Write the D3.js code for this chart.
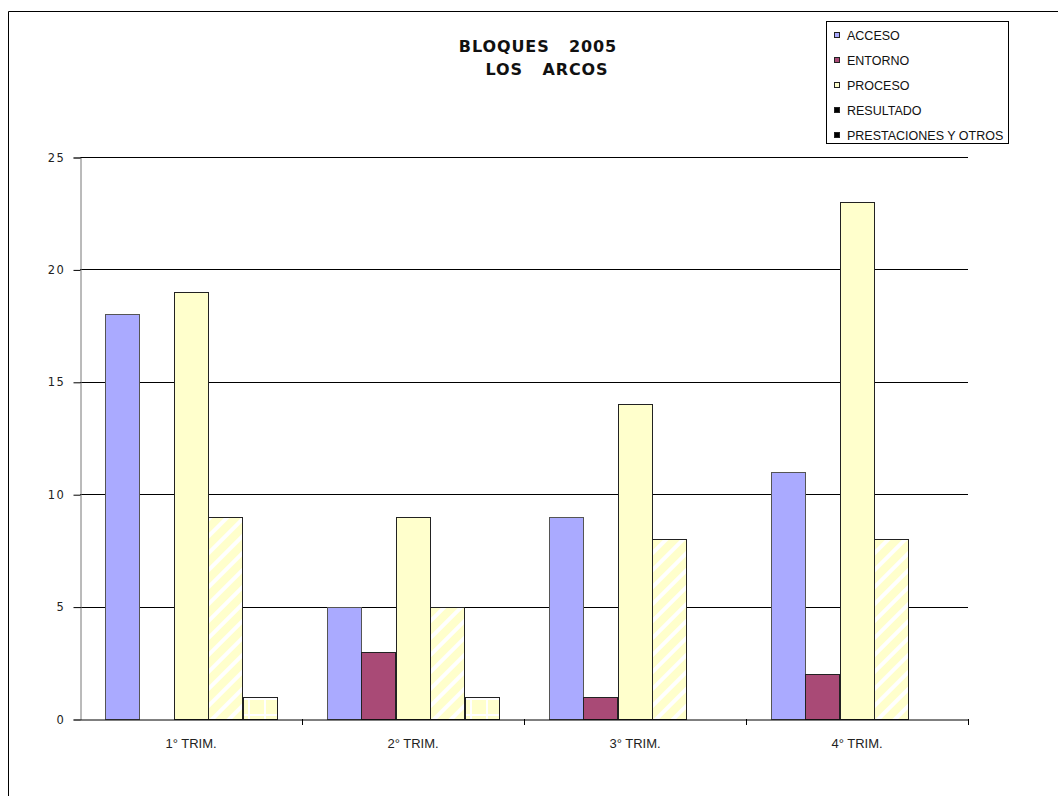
<!DOCTYPE html>
<html>
<head>
<meta charset="utf-8">
<script src="https://cdn.jsdelivr.net/npm/d3@7"></script>
<style>
  html, body { margin: 0; padding: 0; background: #fff; }
  svg { display: block; }
</style>
</head>
<body>
<svg id="chart" width="1058" height="796"></svg>
<script>
// Quarters and series of the 2005 block report
const quarters = ["1° TRIM.", "2° TRIM.", "3° TRIM.", "4° TRIM."];
const seriesNames = ["ACCESO", "ENTORNO", "PROCESO", "RESULTADO", "PRESTACIONES Y OTROS"];
const acceso = [18, 5, 9, 11];
const entorno = [0, 3, 1, 2];
const proceso = [19, 9, 14, 23];
const resultado = [9, 5, 8, 8];
const prestaciones = [1, 1, 0, 0];
const yTicks = [0, 5, 10, 15, 20, 25];

const seriesValues = [acceso, entorno, proceso, resultado, prestaciones];

const svg = d3.select("#chart");
const defs = svg.append("defs");

// Diagonal white stripes over pale yellow
const diag = defs.append("pattern").attr("id", "diag")
  .attr("patternUnits", "userSpaceOnUse").attr("width", 12).attr("height", 12)
  .attr("patternTransform", "rotate(45)");
diag.append("rect").attr("width", 12).attr("height", 12).attr("fill", "#ffffcc");
diag.append("rect").attr("x", 0).attr("width", 4).attr("height", 12).attr("fill", "#ffffff");

// White grid over pale yellow
const grid = defs.append("pattern").attr("id", "grid")
  .attr("patternUnits", "userSpaceOnUse").attr("width", 16).attr("height", 16)
  .attr("x", 1).attr("y", 3);
grid.append("rect").attr("width", 16).attr("height", 16).attr("fill", "#ffffcc");
grid.append("rect").attr("x", 7).attr("width", 2).attr("height", 16).attr("fill", "#ffffff");
grid.append("rect").attr("y", 7).attr("width", 16).attr("height", 2).attr("fill", "#ffffff");

const fills = ["#aaaaff", "#a94a76", "#ffffcc", "url(#diag)", "url(#grid)"];
const legendFills = ["#aaaaff", "#a94a76", "#ffffcc", "#000000", "#000000"];

// Outer frame (top and left edges visible)
svg.append("path").attr("d", "M8.5,796 V11.5 H1058")
  .attr("fill", "none").attr("stroke", "#000").attr("stroke-width", 1);

const plot = { left: 80, right: 968, top: 157, bottom: 719 };

const x0 = d3.scaleBand().domain(quarters).range([plot.left, plot.right]).paddingInner(0).paddingOuter(0);
const x1 = d3.scaleBand().domain(seriesNames).range([0, x0.bandwidth()]).paddingInner(0).paddingOuter(0.72);
const y = d3.scaleLinear().domain([0, 25]).range([plot.bottom, plot.top]);

// Horizontal gridlines
svg.append("g").selectAll("line").data(yTicks.filter(d => d > 0)).join("line")
  .attr("x1", plot.left).attr("x2", plot.right)
  .attr("y1", d => Math.round(y(d)) + 0.5).attr("y2", d => Math.round(y(d)) + 0.5)
  .attr("stroke", "#000").attr("stroke-width", 1);

// Bars
const groups = svg.append("g").selectAll("g").data(quarters).join("g")
  .attr("transform", d => `translate(${x0(d)},0)`);
groups.selectAll("rect")
  .data((q, qi) => seriesNames.map((s, si) => ({ s, si, v: seriesValues[si][qi] })).filter(d => d.v > 0))
  .join("rect")
  .attr("x", d => Math.round(x1(d.s)) + 0.5)
  .attr("y", d => Math.round(y(d.v)) + 0.5)
  .attr("width", Math.round(x1.bandwidth()))
  .attr("height", d => Math.round(y(0)) - Math.round(y(d.v)))
  .attr("fill", d => fills[d.si])
  .attr("stroke", d => d.si === 0 ? "#555" : "#222")
  .attr("stroke-width", 1);

// Y axis
const yAxis = svg.append("g").attr("transform", `translate(${plot.left + 0.5},0.5)`)
  .call(d3.axisLeft(y).tickValues(yTicks).tickSize(7).tickPadding(8));
yAxis.select(".domain").attr("stroke", "#777");
yAxis.selectAll(".tick line").attr("stroke", "#000");
yAxis.selectAll("text").attr("font-family", "DejaVu Sans, Verdana, sans-serif")
  .attr("font-size", 11.5).attr("letter-spacing", 1.6).attr("fill", "#222");

// X axis
const xAxis = svg.append("g").attr("transform", `translate(0,${plot.bottom + 0.5})`)
  .call(d3.axisBottom(x0).tickSize(0).tickPadding(19));
xAxis.select(".domain").attr("stroke", "#000");
xAxis.selectAll("text").attr("font-family", "Liberation Sans, Arial, sans-serif")
  .attr("font-size", 13).attr("fill", "#222").attr("dy", "0.72em");
svg.append("g").selectAll("line").data(quarters.slice(1).concat([null])).join("line")
  .attr("x1", d => d ? Math.round(x0(d)) + 0.5 : plot.right + 0.5)
  .attr("x2", d => d ? Math.round(x0(d)) + 0.5 : plot.right + 0.5)
  .attr("y1", plot.bottom).attr("y2", plot.bottom + 6)
  .attr("stroke", "#000");

// Title
const title = svg.append("g").attr("font-family", "DejaVu Sans, Verdana, sans-serif")
  .attr("font-weight", "bold").attr("font-size", 16).attr("letter-spacing", 0.9).attr("fill", "#111");
title.append("text").attr("x", 538).attr("y", 52).attr("text-anchor", "middle")
  .text("BLOQUES\u00a0\u00a0\u00a02005");
title.append("text").attr("x", 547).attr("y", 75).attr("text-anchor", "middle")
  .text("LOS\u00a0\u00a0\u00a0ARCOS");

// Legend
const legend = svg.append("g");
legend.append("rect").attr("x", 826.5).attr("y", 21.5).attr("width", 182).attr("height", 122)
  .attr("fill", "#fff").attr("stroke", "#000");
const items = legend.selectAll("g.item").data(seriesNames).join("g").attr("class", "item")
  .attr("transform", (d, i) => `translate(0,${40 + i * 25})`);
items.append("rect").attr("x", 834.5).attr("y", -7.5).attr("width", 5).attr("height", 5)
  .attr("fill", (d, i) => legendFills[i]).attr("stroke", "#222");
items.append("text").attr("x", 847).attr("y", 0)
  .attr("font-family", "Liberation Sans, Arial, sans-serif").attr("font-size", 12.5).attr("fill", "#111")
  .text(d => d);
</script>
</body>
</html>
